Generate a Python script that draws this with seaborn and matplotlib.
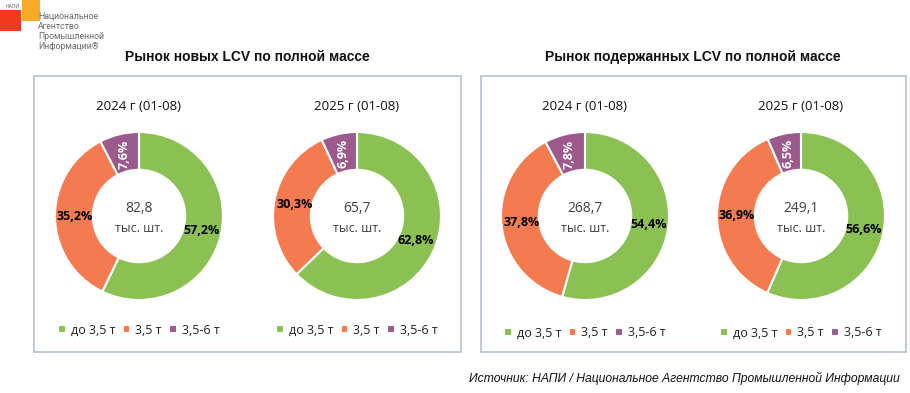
import numpy as np
import seaborn as sns
import matplotlib.pyplot as plt
from matplotlib.patches import Rectangle

# data
categories = ["до 3,5 т", "3,5 т", "3,5-6 т"]
years = ["2024 г (01-08)", "2025 г (01-08)"]
new_2024 = [57.2, 35.2, 7.6]
new_2025 = [62.8, 30.3, 6.9]
used_2024 = [54.4, 37.8, 7.8]
used_2025 = [56.6, 36.9, 6.5]
totals_new = ["82,8", "65,7"]
totals_used = ["268,7", "249,1"]
panel_titles = ["Рынок новых LCV по полной массе", "Рынок подержанных LCV по полной массе"]

sns.set_theme(style="white")
plt.rcParams["font.family"] = ["Open Sans", "DejaVu Sans"]
colors = sns.color_palette(["#8BC152", "#F47A50", "#9C5A8C"])

W, H = 910, 393
fig = plt.figure(figsize=(W / 100, H / 100), dpi=100)


def fx(x):
    return x / W


def fy(y):
    return 1 - y / H


# panel boxes
for x0, x1 in [(34, 461), (481, 906)]:
    fig.patches.append(Rectangle((fx(x0), fy(352)), fx(x1) - fx(x0), fy(76) - fy(352),
                                 transform=fig.transFigure, fill=False,
                                 edgecolor="#B4C0D2", lw=1.2))

fig.text(fx(247), fy(57), panel_titles[0], ha="center", va="center", fontsize=10,
         fontweight="bold", family="Liberation Sans", color="#111111")
fig.text(fx(693), fy(57), panel_titles[1], ha="center", va="center", fontsize=10,
         fontweight="bold", family="Liberation Sans", color="#111111")

pies = [
    (139, new_2024, totals_new[0], years[0], 330),
    (357, new_2025, totals_new[1], years[1], 330),
    (585, used_2024, totals_used[0], years[0], 333),
    (801, used_2025, totals_used[1], years[1], 333),
]

R = 84
cy = 216
for cx, vals, total, year, ly in pies:
    ax = fig.add_axes([fx(cx - R), fy(cy + R), 2 * R / W, 2 * R / H])
    wedges, _ = ax.pie(vals, colors=colors, startangle=90, counterclock=False,
                       radius=1, wedgeprops=dict(width=0.45, edgecolor="white", linewidth=1.5))
    ax.set_xlim(-1, 1)
    ax.set_ylim(-1, 1)
    ax.set_aspect("equal")
    ax.axis("off")
    for i, (w, v) in enumerate(zip(wedges, vals)):
        ang = np.deg2rad((w.theta1 + w.theta2) / 2)
        r = 0.76
        lab = f"{v:.1f}%".replace(".", ",")
        if i == 2:
            ax.text(r * np.cos(ang), r * np.sin(ang), lab, ha="center", va="center",
                    rotation=90, color="white", fontsize=9, fontweight="bold")
        else:
            ax.text(r * np.cos(ang), r * np.sin(ang), lab, ha="center", va="center",
                    color="black", fontsize=9, fontweight="bold")
    ax.text(0, 0.09, total, ha="center", va="center", fontsize=10, color="#404040")
    ax.text(0, -0.15, "тыс. шт.", ha="center", va="center", fontsize=9, color="#404040")
    fig.text(fx(cx), fy(106), year, ha="center", va="center", fontsize=9.5, color="#111111")
    fig.legend(wedges, categories, loc="center", bbox_to_anchor=(fx(cx), fy(ly)), ncol=3,
               frameon=False, fontsize=9, handlelength=0.6, handleheight=0.6,
               handletextpad=0.4, columnspacing=0.6, labelcolor="#222222")

# logo
fig.patches.append(Rectangle((fx(0), fy(31)), fx(21), fy(10) - fy(31),
                             transform=fig.transFigure, color="#F03A1E", lw=0))
fig.patches.append(Rectangle((fx(22), fy(21)), fx(18), fy(0) - fy(21),
                             transform=fig.transFigure, color="#F7A928", lw=0))
fig.text(fx(6), fy(6), "НАПИ", fontsize=3.5, color="#555555", va="center")
for i, line in enumerate(["Национальное", "Агентство", "Промышленной", "Информации\u00ae"]):
    fig.text(fx(38), fy(16 + i * 10.3), line, fontsize=6.3, color="#6A6A6A", va="center",
             family="Roboto")

fig.text(fx(900), fy(378), "Источник: НАПИ / Национальное Агентство Промышленной Информации",
         ha="right", va="center", fontsize=8.7, style="italic", family="Liberation Sans",
         color="#111111")

fig.savefig("out.png", dpi=100)
